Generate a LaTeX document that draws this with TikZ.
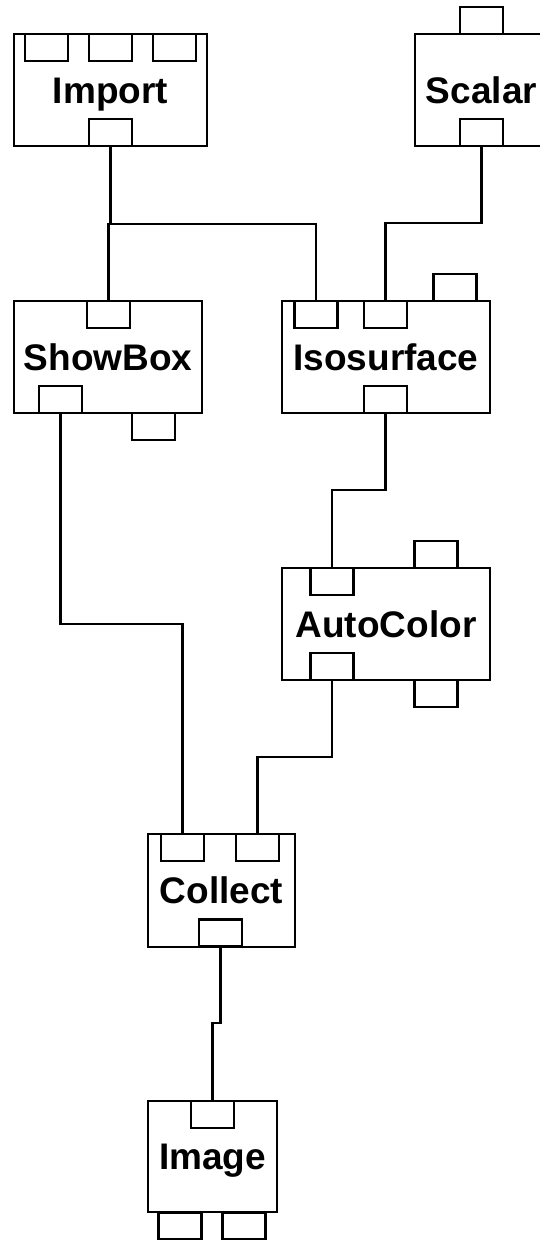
\documentclass[tikz,border=0pt]{standalone}
\usepackage{fontspec}
\setmainfont{Liberation Sans}
\begin{document}
\begin{tikzpicture}[x=1pt,y=-1pt,
  box/.style={draw, line width=2.2pt, inner sep=0pt, minimum height=112pt,
    font=\bfseries\fontsize{37}{40}\selectfont, text height=26pt, text depth=0pt},
  port/.style={draw, fill=white, line width=2.2pt, inner sep=0pt, minimum width=43pt, minimum height=27pt},
  wire/.style={line width=2.2pt, line join=miter}]
\useasboundingbox (0,0) rectangle (540,1240);
\clip (0,0) rectangle (540,1240);
\fill[white] (0,0) rectangle (540,1240);
% boxes
\node[box, minimum width=193pt] (imp) at (110.5,90) {Import};
\node[box, minimum width=133pt] (sca) at (481.5,90) {Scalar};
\node[box, minimum width=188pt] (sb) at (108,357) {ShowBox};
\node[box, minimum width=208pt] (iso) at (386,357) {Isosurface};
\node[box, minimum width=208pt] (ac) at (386,624) {AutoColor};
\node[box, minimum width=147pt, minimum height=113pt] (col) at (221.5,890.5) {Collect};
\node[box, minimum width=129pt, minimum height=111pt] (img) at (212.5,1156.5) {Image};
% ports
\node[port] (imp-a) at (46.5,47.5) {};
\node[port] (imp-b) at (110.5,47.5) {};
\node[port] (imp-c) at (174.5,47.5) {};
\node[port] (imp-o) at (110.5,132.5) {};
\node[port] (sca-t) at (481.5,20.5) {};
\node[port] (sca-o) at (481.5,132.5) {};
\node[port] (sb-i) at (108.5,314.5) {};
\node[port] (sb-o) at (60.5,399.5) {};
\node[port] (sb-x) at (153.5,426.5) {};
\node[port] (iso-i1) at (316,314.5) {};
\node[port] (iso-i2) at (385.5,314.5) {};
\node[port] (iso-t) at (455,287.5) {};
\node[port] (iso-o) at (385.5,399.5) {};
\node[port] (ac-i) at (332,581.5) {};
\node[port] (ac-t) at (436,554.5) {};
\node[port] (ac-o) at (332,666.5) {};
\node[port] (ac-x) at (436,693.5) {};
\node[port] (col-i1) at (182.5,847.5) {};
\node[port] (col-i2) at (257.5,847.5) {};
\node[port] (col-o) at (220.5,933) {};
\node[port] (img-i) at (212.5,1114.5) {};
\node[port] (img-a) at (180,1226) {};
\node[port] (img-b) at (244,1226) {};
% junctions
\coordinate (j1) at (110.5,224);
\coordinate (j2) at (481.5,223);
\coordinate (j3) at (385.5,490);
\coordinate (j4) at (60.5,624);
\coordinate (j5) at (332,757);
\coordinate (j6) at (220.5,1023);
% wires
\draw[wire] (imp-o.south) -- (j1) -| (sb-i.north);
\draw[wire] (j1) -| (iso-i1.north);
\draw[wire] (sca-o.south) -- (j2) -| (iso-i2.north);
\draw[wire] (iso-o.south) -- (j3) -| (ac-i.north);
\draw[wire] (sb-o.south) -- (j4) -| (col-i1.north);
\draw[wire] (ac-o.south) -- (j5) -| (col-i2.north);
\draw[wire] (col-o.south) -- (j6) -| (img-i.north);
\end{tikzpicture}
\end{document}
